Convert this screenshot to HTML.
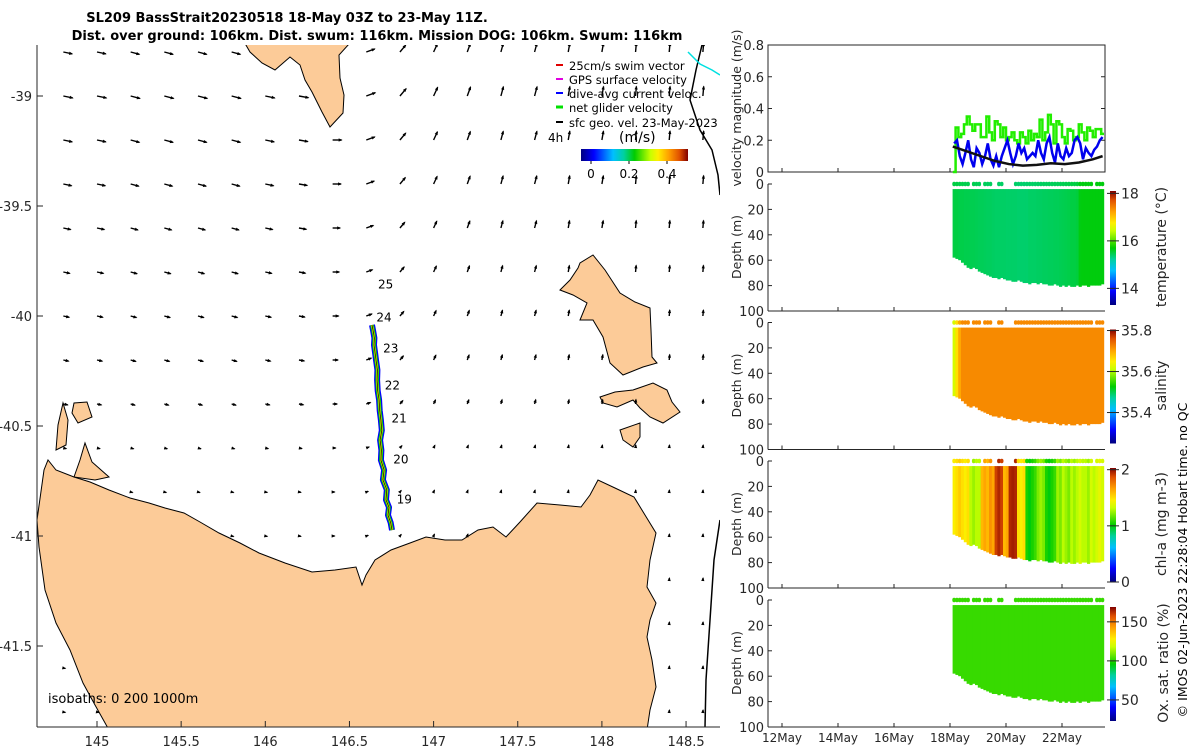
<!DOCTYPE html>
<html><head><meta charset="utf-8">
<style>
html,body{margin:0;padding:0;background:#fff;}
svg{display:block;font-family:"DejaVu Sans","Liberation Sans",sans-serif;}
</style></head>
<body>
<svg id="fig" xmlns="http://www.w3.org/2000/svg" width="1200" height="750" viewBox="0 0 1200 750">
<defs>
<linearGradient id="jetV" x1="0" y1="1" x2="0" y2="0">
<stop offset="0" stop-color="#00007f"/><stop offset="0.12" stop-color="#0000ff"/><stop offset="0.3" stop-color="#00bfff"/><stop offset="0.4" stop-color="#00d0a0"/><stop offset="0.5" stop-color="#00cc00"/><stop offset="0.65" stop-color="#c8ff00"/><stop offset="0.72" stop-color="#ffee00"/><stop offset="0.82" stop-color="#ffa000"/><stop offset="0.92" stop-color="#e05000"/><stop offset="1" stop-color="#800000"/>
</linearGradient>
<linearGradient id="jetH" x1="0" y1="0" x2="1" y2="0">
<stop offset="0" stop-color="#00007f"/><stop offset="0.12" stop-color="#0000ff"/><stop offset="0.3" stop-color="#00bfff"/><stop offset="0.4" stop-color="#00d0a0"/><stop offset="0.5" stop-color="#00cc00"/><stop offset="0.65" stop-color="#c8ff00"/><stop offset="0.72" stop-color="#ffee00"/><stop offset="0.82" stop-color="#ffa000"/><stop offset="0.92" stop-color="#e05000"/><stop offset="1" stop-color="#800000"/>
</linearGradient>
<clipPath id="mapClip"><rect x="37" y="45" width="683" height="682"/></clipPath>
</defs>

<text x="287" y="22" text-anchor="middle" font-size="13" font-weight="bold">SL209 BassStrait20230518 18-May 03Z to 23-May 11Z.</text>
<text x="377" y="40" text-anchor="middle" font-size="13" font-weight="bold">Dist. over ground: 106km. Dist. swum: 116km. Mission DOG: 106km. Swum: 116km</text>

<g id="map" clip-path="url(#mapClip)">
<g id="land" fill="#fccb98" stroke="#000" stroke-width="1">
<path d="M37,520 L44,470 L48,460 L56,470 L74,477 L90,482 L109,490 L130,498 L149,503 L165,508 L184,513 L200,522 L219,533 L240,543 L259,553 L285,563 L312,572 L335,570 L356,567 L362,585 L366,575 L375,560 L391,550 L410,543 L426,537 L445,540 L462,540 L478,530 L493,527 L506,537 L520,522 L537,503 L560,505 L581,507 L590,495 L598,480 L615,488 L634,497 L645,515 L656,533 L650,560 L647,587 L656,603 L650,620 L647,637 L652,660 L656,687 L650,710 L647,730 L109,730 L95,705 L83,683 L70,650 L56,623 L45,590 L39,547 Z"/>
<path d="M560,290 L570,280 L578,268 L580,263 L593,255 L605,270 L620,293 L635,302 L650,308 L651,330 L652,357 L657,363 L643,367 L623,375 L610,363 L603,337 L593,320 L580,320 L587,303 L573,295 Z"/>
<path d="M600,397 L615,392 L633,390 L653,383 L667,390 L672,402 L680,412 L663,423 L650,417 L640,408 L633,400 L617,407 L603,403 Z"/>
<path d="M620,430 L640,423 L640,437 L633,447 L623,440 Z"/>
<path d="M243,40 L250,52 L262,63 L275,70 L290,57 L300,65 L305,80 L312,92 L322,112 L330,127 L343,113 L344,95 L340,78 L339,55 L349,44 L360,40 Z"/>
<path d="M72,413 L74,403 L87,402 L92,417 L78,423 Z"/>
<path d="M56,450 L58,425 L63,403 L68,420 L66,445 Z"/>
<path d="M74,477 L80,460 L85,443 L92,462 L109,477 L95,480 Z"/>
</g>
<path d="M702,45 L696,70 L690,100 L700,130 L712,150 L718,175 L720,195" fill="none" stroke="#000" stroke-width="1.5"/>
<path d="M720,520 L714,560 L710,620 L706,680 L705,727" fill="none" stroke="#000" stroke-width="1.5"/>
<path d="M688,52 L700,64 L712,70 L720,75" fill="none" stroke="#00e0e0" stroke-width="1.5"/>
<g id="arrows"></g>
<g id="track"></g>
<g id="daylabels" font-size="12"></g>
</g>

<g font-size="11.5">
<line x1="556" y1="65" x2="563" y2="65" stroke="#e00000" stroke-width="2"/>
<text x="569" y="70">25cm/s swim vector</text>
<line x1="556" y1="79" x2="563" y2="79" stroke="#e000e0" stroke-width="2"/>
<text x="569" y="84">GPS surface velocity</text>
<line x1="556" y1="93" x2="563" y2="93" stroke="#0000ff" stroke-width="2"/>
<text x="569" y="98">dive-avg current veloc.</text>
<line x1="556" y1="107" x2="563" y2="107" stroke="#00e000" stroke-width="3"/>
<text x="569" y="112">net glider velocity</text>
<line x1="556" y1="122" x2="563" y2="122" stroke="#000" stroke-width="2"/>
<text x="569" y="127">sfc geo. vel. 23-May-2023</text>
<text x="548" y="142" font-size="12">4h</text>
<text x="619" y="142" font-size="14">(m/s)</text>
<rect x="581" y="149" width="107" height="12" fill="url(#jetH)"/>
<g id="speedTicks" font-size="12"></g>
</g>

<g id="mapAxes" font-size="13" fill="#262626">
<line x1="37" y1="45" x2="37" y2="727" stroke="#262626"/>
<line x1="37" y1="727" x2="720" y2="727" stroke="#262626"/>
</g>
<text x="48" y="703" font-size="13">isobaths: 0   200  1000m</text>

<g id="right"></g>
<text transform="translate(1187,560) rotate(-90)" text-anchor="middle" font-size="12.5">© IMOS 02-Jun-2023 22:28:04 Hobart time. no QC</text>
</svg>

<script>
// ---- map data ----
const arrowColAngle = [-12,-12,-15,-15,-15,-15,-12,-10,0,20,50,65,70,75,75,80,80,85,85,85];
const arrowRowSpeed = [0.3,0.32,0.3,0.28,0.25,0.22,0.2,0.18,0.15,0.1,0.06,0.05,0.04,0.05,0.05,0.05];
const trackLon = [146.753,146.745,146.729,146.735,146.717,146.722,146.699,146.706,146.687,146.690,146.682,146.692,146.687,146.680,146.676,146.668,146.664,146.666,146.658,146.652,146.646,146.648,146.640,146.634];
const trackLat = [-40.973,-40.94,-40.905,-40.87,-40.836,-40.79,-40.745,-40.70,-40.655,-40.61,-40.564,-40.52,-40.473,-40.43,-40.382,-40.34,-40.291,-40.245,-40.200,-40.165,-40.132,-40.10,-40.064,-40.041];
const dayLabels = ["19","20","21","22","23","24","25"];
const dayLabelLon = [146.78,146.76,146.75,146.71,146.70,146.66,146.67];
const dayLabelLat = [-40.834,-40.652,-40.465,-40.315,-40.147,-40.006,-39.856];
const lonTicks = [145,145.5,146,146.5,147,147.5,148,148.5];
const latTicks = [-39,-39.5,-40,-40.5,-41,-41.5];
const speedTicks = [0,0.2,0.4];

// ---- time-series data (t = 18.1 + 0.1*i days of May) ----
const diveDay = [];
for (let i=0;i<54;i++) diveDay.push(+(18.1+0.1*i).toFixed(2));
const netVel = [0,0.28,0.22,0.24,0.3,0.35,0.3,0.26,0.3,0.3,0.22,0.22,0.35,0.25,0.2,0.32,0.3,0.22,0.28,0.2,0.22,0.25,0.2,0.18,0.25,0.22,0.18,0.26,0.2,0.24,0.22,0.33,0.2,0.25,0.36,0.3,0.18,0.32,0.3,0.22,0.18,0.27,0.26,0.2,0.22,0.3,0.25,0.2,0.28,0.26,0.22,0.27,0.27,0.24];
const diveVel = [0.18,0.2,0.1,0.05,0.12,0.2,0.08,0.03,0.15,0.12,0.05,0.1,0.18,0.08,0.04,0.1,0.03,0.1,0.15,0.2,0.12,0.05,0.1,0.18,0.12,0.15,0.08,0.1,0.12,0.1,0.2,0.12,0.08,0.18,0.22,0.12,0.06,0.18,0.1,0.08,0.15,0.1,0.12,0.2,0.22,0.18,0.08,0.15,0.12,0.1,0.14,0.16,0.2,0.22];
const geoDay = [18.1,18.6,19.1,19.6,20.1,20.6,21.1,21.6,22.1,22.6,23.1,23.45];
const geoVel = [0.16,0.13,0.1,0.07,0.05,0.04,0.045,0.055,0.05,0.06,0.08,0.1];
const maxDepth = [58,59,60,62,64,66,67,66,67,69,70,71,72,73,74,74,75,74,75,76,76,77,77,76,77,78,78,79,78,78,79,78,79,79,80,80,79,80,81,80,81,80,81,81,80,81,80,80,81,80,80,80,80,79];
const surfaceFix = [1,1,1,1,1,1,0,1,1,1,0,1,1,1,0,0,1,1,0,0,0,0,1,1,1,1,1,1,1,1,1,1,1,1,1,1,1,1,1,1,1,1,1,1,1,1,1,1,1,1,0,1,1,1];
const tempVals = [15.5,15.5,15.48,15.48,15.47,15.47,15.46,15.46,15.45,15.44,15.44,15.43,15.42,15.42,15.41,15.4,15.4,15.4,15.4,15.39,15.39,15.39,15.39,15.38,15.38,15.38,15.38,15.4,15.4,15.4,15.41,15.41,15.42,15.42,15.43,15.43,15.44,15.44,15.45,15.46,15.47,15.48,15.5,15.5,15.52,15.65,15.66,15.66,15.66,15.66,15.66,15.66,15.66,15.66];
const salVals = [35.62,35.66,35.7,35.72,35.72,35.72,35.72,35.72,35.72,35.72,35.72,35.72,35.72,35.72,35.72,35.72,35.72,35.72,35.72,35.72,35.72,35.72,35.72,35.72,35.72,35.72,35.72,35.72,35.72,35.72,35.72,35.72,35.72,35.72,35.72,35.72,35.72,35.72,35.72,35.72,35.72,35.72,35.72,35.72,35.72,35.72,35.72,35.72,35.72,35.72,35.72,35.72,35.72,35.72];
const chlVals = [1.45,1.5,1.55,1.5,1.45,1.5,1.3,1.25,1.3,1.3,1.6,1.65,1.6,1.7,1.65,1.9,1.95,1.9,1.6,1.65,1.95,1.97,1.95,1.5,1.45,1.5,1.05,1.0,1.05,1.1,1.2,1.25,1.2,1.05,1.0,1.05,1.1,1.25,1.2,1.3,1.25,1.2,1.3,1.25,1.3,1.35,1.3,1.3,1.25,1.35,1.3,1.35,1.4,1.35];
const oxVals = [102,102,102,102,102,102,102,102,102,102,102,102,102,102,102,102,102,102,102,102,102,102,102,102,102,102,102,102,102,102,102,102,102,102,102,102,102,102,102,102,102,102,102,102,102,102,102,102,102,102,102,102,102,102];
const velTicks = [0,0.2,0.4,0.6,0.8];
const depthTicks = [0,20,40,60,80,100];
const dateTicks = [12,14,16,18,20,22];
const dateLabels = ["12May","14May","16May","18May","20May","22May"];

const NS='http://www.w3.org/2000/svg';
function mk(tag, attrs, parent){const e=document.createElementNS(NS,tag);for(const k in attrs)e.setAttribute(k,attrs[k]);if(parent)parent.appendChild(e);return e;}
const stops=[[0,[0,0,127]],[0.12,[0,0,255]],[0.3,[0,191,255]],[0.4,[0,208,160]],[0.5,[0,204,0]],[0.65,[200,255,0]],[0.72,[255,238,0]],[0.82,[255,160,0]],[0.92,[224,80,0]],[1,[128,0,0]]];
function cmap(f){f=Math.max(0,Math.min(1,f));for(let i=1;i<stops.length;i++){if(f<=stops[i][0]){const a=stops[i-1],b=stops[i];const r=(f-a[0])/(b[0]-a[0]);const c=a[1].map((v,j)=>Math.round(v+(b[1][j]-v)*r));return `rgb(${c[0]},${c[1]},${c[2]})`;}}return 'rgb(128,0,0)';}

// ---- map ----
const lonX = lon => 97+(lon-145)*168.3;
const latY = lat => 96+(-39-lat)*220;
const landPaths=[...document.querySelectorAll('#land path')];
function onLand(x,y){try{return landPaths.some(p=>p.isPointInFill(new DOMPoint(x,y)));}catch(e){return false;}}
const arrowsG=document.getElementById('arrows');
for(let r=0;r<arrowRowSpeed.length;r++){
  for(let c=0;c<arrowColAngle.length;c++){
    const lon=144.8+0.2*c, lat=-38.8-0.2*r;
    const x=lonX(lon), y=latY(lat);
    if(onLand(x,y)) continue;
    const L=Math.max(2,arrowRowSpeed[r]*30), a=arrowColAngle[c]*Math.PI/180;
    const x2=x+L*Math.cos(a), y2=y-L*Math.sin(a);
    const g=mk('g',{},arrowsG);
    
    
    mk('line',{x1:x,y1:y,x2:x2,y2:y2,stroke:'#000','stroke-width':1.4},g);
    const hx=Math.cos(a), hy=-Math.sin(a), h=3;
    mk('polygon',{points:`${x2+hx*1},${y2+hy*1} ${x2-hx*h-hy*1.6},${y2-hy*h+hx*1.6} ${x2-hx*h+hy*1.6},${y2-hy*h-hx*1.6}`,fill:'#000'},g);
  }
}
const trackG=document.getElementById('track');
const tpts=trackLon.map((lo,i)=>`${lonX(lo).toFixed(1)},${latY(trackLat[i]).toFixed(1)}`).join(' ');
[['#0000ff',6],['#00d000',3.5],['#ffe000',1.8],['#000',0.7]].forEach(([col,w])=>{
  const p=mk('polyline',{points:tpts,fill:'none',stroke:col,'stroke-width':w,'stroke-linejoin':'round'},trackG);
  
  
});
const dl=document.getElementById('daylabels');
dayLabels.forEach((s,i)=>{const t=mk('text',{x:lonX(dayLabelLon[i]),y:latY(dayLabelLat[i])+4},dl);t.textContent=s;
  
  });
const axG=document.getElementById('mapAxes');
lonTicks.forEach(v=>{const x=lonX(v);mk('line',{x1:x,y1:727,x2:x,y2:721,stroke:'#262626'},axG);
  const t=mk('text',{x:x,y:746,'text-anchor':'middle'},axG);t.textContent=String(v);
  
  });
latTicks.forEach(v=>{const y=latY(v);mk('line',{x1:37,y1:y,x2:43,y2:y,stroke:'#262626'},axG);
  const t=mk('text',{x:32,y:y+5,'text-anchor':'end'},axG);t.textContent=String(v);
  
  });
const stG=document.getElementById('speedTicks');
speedTicks.forEach(v=>{const x=591+v*190;mk('line',{x1:x,y1:161,x2:x,y2:164,stroke:'#000'},stG);
  const t=mk('text',{x:x,y:178,'text-anchor':'middle'},stG);t.textContent=String(v);
  
  });

// ---- right panels ----
const R=document.getElementById('right');
const X0=768, X1=1105;
const tx = d => 782+(d-12)*28;
(function(){
  const top=45, bot=172, vy=v=>bot-(v/0.8)*(bot-top);
  const g=mk('g',{},R);
  
  
  mk('rect',{x:X0,y:top,width:X1-X0,height:bot-top,fill:'#fff',stroke:'#262626','stroke-width':1},g);
  velTicks.forEach(v=>{const y=vy(v);mk('line',{x1:X0,y1:y,x2:X0+4,y2:y,stroke:'#262626'},g);mk('line',{x1:X1,y1:y,x2:X1-4,y2:y,stroke:'#262626'},g);
    const t=mk('text',{x:X0-4,y:y+5,'text-anchor':'end','font-size':13,fill:'#262626'},g);t.textContent=String(v);
    
    });
  dateTicks.forEach(d=>{mk('line',{x1:tx(d),y1:bot,x2:tx(d),y2:bot-4,stroke:'#262626'},g);});
  let p='';netVel.forEach((v,i)=>{const x=tx(diveDay[i]),x2=tx(diveDay[i]+0.1);p+=(i?'L':'M')+x+','+vy(v)+'L'+x2+','+vy(v);});
  const ln=mk('path',{d:p,fill:'none',stroke:'#22ee00','stroke-width':2.5},g);
  
  const b=mk('polyline',{points:diveVel.map((v,i)=>tx(diveDay[i]+0.05)+','+vy(v)).join(' '),fill:'none',stroke:'#0000ee','stroke-width':2.5},g);
  
  const k=mk('polyline',{points:geoVel.map((v,i)=>tx(geoDay[i])+','+vy(v)).join(' '),fill:'none',stroke:'#111','stroke-width':2.5},g);
  
  const yl=mk('text',{transform:'translate(741,108) rotate(-90)','text-anchor':'middle','font-size':12.5,fill:'#262626'},g);yl.textContent='velocity magnitude (m/s)';
  
})();
const panels=[
 {top:184,vals:tempVals,vmin:13.3,vmax:18.1,ticks:[14,16,18],label:'temperature (°C)',name:'temperature'},
 {top:322.5,vals:salVals,vmin:35.249,vmax:35.805,ticks:[35.4,35.6,35.8],label:'salinity',name:'salinity'},
 {top:461,vals:chlVals,vmin:0,vmax:2.03,ticks:[0,1,2],label:'chl-a (mg m-3)',name:'chlorophyll'},
 {top:600,vals:oxVals,vmin:23,vmax:169,ticks:[50,100,150],label:'Ox. sat. ratio (%)',name:'oxygen'}
];
panels.forEach((P,pi)=>{
  const top=P.top, bot=top+127, dy=d=>top+d/100*127;
  const g=mk('g',{},R);
  
  
  const f=v=>cmap((v-P.vmin)/(P.vmax-P.vmin));
  P.vals.forEach((v,i)=>{
    const x=tx(diveDay[i]);
    const r=mk('rect',{x:x-0.2,y:dy(4),width:3.2,height:dy(maxDepth[i])-dy(4),fill:f(v)},g);
    
    
    if(surfaceFix[i]){const c=mk('rect',{x:x-0.5,y:dy(0)-2.2,width:3.6,height:4.4,rx:2,fill:f(v)},g);
      
      }
  });
  mk('line',{x1:X0,y1:top,x2:X0,y2:bot,stroke:'#262626'},g);
  mk('line',{x1:X0,y1:bot,x2:X1,y2:bot,stroke:'#262626'},g);
  depthTicks.forEach(d=>{const y=dy(d);mk('line',{x1:X0,y1:y,x2:X0+4,y2:y,stroke:'#262626'},g);
    const t=mk('text',{x:X0-4,y:y+5,'text-anchor':'end','font-size':13,fill:'#262626'},g);t.textContent=String(d);
    });
  dateTicks.forEach(d=>{mk('line',{x1:tx(d),y1:bot,x2:tx(d),y2:bot-4,stroke:'#262626'},g);});
  const yl=mk('text',{transform:`translate(741,${top+63}) rotate(-90)`,'text-anchor':'middle','font-size':12.5,fill:'#262626'},g);yl.textContent='Depth (m)';
  
  const cb0=top+7, cb1=top+121;
  const cb=mk('rect',{x:1110,y:cb0,width:6,height:cb1-cb0,fill:'url(#jetV)'},g);
  
  P.ticks.forEach(v=>{const y=cb1-(v-P.vmin)/(P.vmax-P.vmin)*(cb1-cb0);
    mk('line',{x1:1107,y1:y,x2:1119,y2:y,stroke:'#262626','stroke-width':1},g);
    const t=mk('text',{x:1121,y:y+5,'font-size':14,fill:'#262626'},g);t.textContent=String(v);
    });
  const cl=mk('text',{transform:`translate(${pi===3?1168:1166},${top+63}) rotate(-90)`,'text-anchor':'middle','font-size':14,fill:'#262626'},g);cl.textContent=P.label;
  
  if(pi===3){dateTicks.forEach((d,j)=>{const t=mk('text',{x:tx(d),y:742,'text-anchor':'middle','font-size':12,fill:'#262626'},g);t.textContent=dateLabels[j];
    });}
});
</script>
</body></html>
